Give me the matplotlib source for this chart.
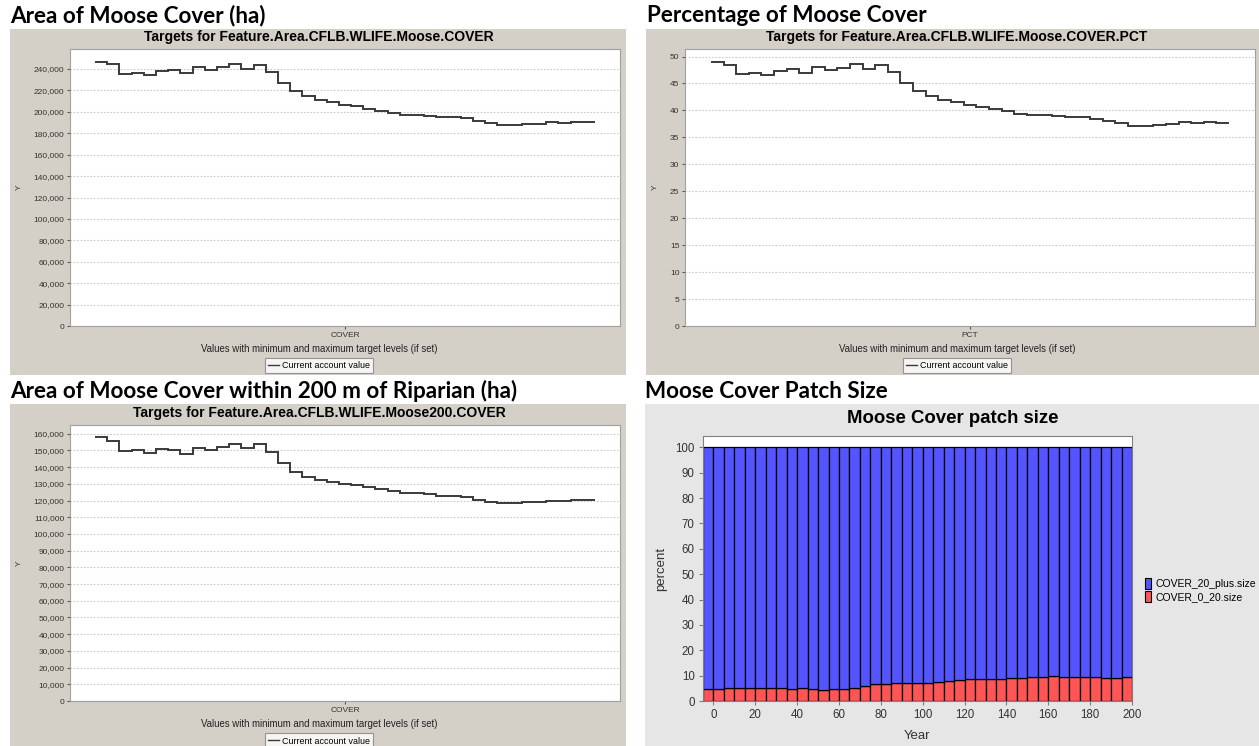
import numpy as np
import matplotlib
matplotlib.use('Agg')
from matplotlib import pyplot as plt
from matplotlib.patches import Rectangle, Patch
from matplotlib.lines import Line2D
from matplotlib.ticker import FuncFormatter

# simulation years (5 year steps)
years = list(range(0, 205, 5))

# area of moose cover (ha)
cover_ha = [246900, 244700, 235300, 236600, 234400, 238400, 239400, 236200, 242200, 239400,
            241500, 244300, 240000, 244000, 237200, 226900, 219700, 214400, 211300, 208800,
            206300, 205100, 202900, 201000, 198500, 197000, 196700, 195700, 195100, 194800,
            193900, 191700, 189500, 187300, 187600, 188300, 188900, 190700, 189800, 190700,
            190100]

# percentage of moose cover
cover_pct = [49.0, 48.5, 46.8, 47.0, 46.5, 47.4, 47.6, 46.9, 48.1, 47.5,
             47.9, 48.6, 47.7, 48.5, 47.1, 45.0, 43.6, 42.6, 42.0, 41.5,
             41.0, 40.7, 40.3, 39.9, 39.4, 39.2, 39.1, 38.9, 38.7, 38.7,
             38.5, 38.0, 37.6, 37.1, 37.2, 37.3, 37.4, 37.9, 37.7, 37.8,
             37.7]

# area of moose cover within 200 m of riparian (ha)
cover200_ha = [158000, 155600, 149600, 150400, 148400, 150600, 150200, 148000, 151400, 150000,
               151800, 154000, 151200, 154000, 149000, 142600, 137300, 134100, 132100, 131100,
               129900, 129500, 128100, 127100, 125500, 124500, 124700, 123900, 122900, 122900,
               122100, 120500, 119100, 118300, 118700, 119100, 119100, 119900, 119700, 120500,
               120300]

# patch size classes (percent)
patch_0_20 = [4.7, 4.7, 5.3, 5.3, 5.3, 5.1, 5.1, 5.3, 4.9, 5.3,
              4.9, 4.3, 4.9, 4.9, 5.3, 6.1, 6.6, 6.8, 7.0, 7.2,
              7.2, 7.2, 7.6, 7.7, 8.1, 8.8, 8.6, 8.8, 8.6, 9.1,
              9.1, 9.3, 9.3, 9.7, 9.5, 9.5, 9.6, 9.3, 9.2, 9.2,
              9.5]
patch_20_plus = [95.3, 95.3, 94.7, 94.7, 94.7, 94.9, 94.9, 94.7, 95.1, 94.7,
                 95.1, 95.7, 95.1, 95.1, 94.7, 93.9, 93.4, 93.2, 93.0, 92.8,
                 92.8, 92.8, 92.4, 92.3, 91.9, 91.2, 91.4, 91.2, 91.4, 90.9,
                 90.9, 90.7, 90.7, 90.3, 90.5, 90.5, 90.4, 90.7, 90.8, 90.8,
                 90.5]

W, H = 1259, 746
PANEL_GREY = '#d4d0c8'
JF_FONT = 'Liberation Sans'
HEAD_FONT = 'Lato'


def fx(x):
    return x / W


def fy(y):
    return 1 - y / H


def box(x0, y0, x1, y1):
    return [x0 / W, 1 - y1 / H, (x1 - x0) / W, (y1 - y0) / H]


fig = plt.figure(figsize=(W / 100, H / 100), dpi=100)
fig.patch.set_facecolor('white')


def background(x0, y0, x1, y1, color):
    fig.add_artist(Rectangle((fx(x0), fy(y1)), (x1 - x0) / W, (y1 - y0) / H,
                             transform=fig.transFigure, facecolor=color,
                             edgecolor='none', zorder=-5))


def heading(x, y, s):
    fig.text(fx(x), fy(y), s, fontsize=16.2, fontweight='bold', family=HEAD_FONT,
             ha='left', va='baseline', color='black')


def step_panel(pbox, cx, vals, top, step, cat, title, title_y, label_y, legend_y):
    x0, y0, x1, y1 = pbox
    ax = fig.add_axes(box(x0, y0, x1, y1))
    edges = np.arange(len(vals) + 1)
    ax.stairs(vals, edges, color='#3a3a3a', lw=1.4, baseline=None)
    ax.set_xlim(-2.05, len(vals) + 2.05)
    ax.set_ylim(0, top)
    ax.set_yticks(np.arange(0, top, step))
    ax.yaxis.set_major_formatter(FuncFormatter(lambda v, p: f'{v:,.0f}'))
    ax.set_xticks([len(vals) / 2])
    ax.set_xticklabels([cat])
    ax.tick_params(axis='both', labelsize=6, colors='#555555', length=2, pad=2,
                   labelcolor='#333333')
    ax.grid(axis='y', linestyle=(0, (1.5, 1.5)), color='#c8c8c8', lw=0.8)
    ax.set_axisbelow(True)
    for s in ax.spines.values():
        s.set_color('#a0a0a0')
        s.set_linewidth(0.8)
    for lab in ax.get_xticklabels() + ax.get_yticklabels():
        lab.set_family(JF_FONT)
    ax.set_ylabel('Y', fontsize=6, family=JF_FONT, color='#333333', labelpad=8)
    # titles, axis label and legend sit centred on the grey chart panel
    fig.text(fx(cx), fy(title_y), title, fontsize=10, fontweight='bold', family=JF_FONT,
             ha='center', va='center')
    fig.text(fx(cx), fy(label_y), 'Values with minimum and maximum target levels (if set)',
             fontsize=6.9, family=JF_FONT, ha='center', va='center', color='#222222')
    handle = Line2D([], [], color='#3a3a3a', lw=1)
    leg = fig.legend([handle], ['Current account value'], loc='center',
                     bbox_to_anchor=(fx(cx), fy(legend_y)),
                     prop={'family': JF_FONT, 'size': 6.4},
                     frameon=True, fancybox=False, edgecolor='#808080',
                     handlelength=1.2, handletextpad=0.4, borderpad=0.35)
    leg.get_frame().set_linewidth(0.8)
    return ax


# grey panel backgrounds
background(10, 29, 626, 375, PANEL_GREY)
background(646, 29, 1259, 375, PANEL_GREY)
background(10, 404, 626, 746, PANEL_GREY)
background(645, 404, 1259, 746, '#e6e6e6')

heading(10, 22.5, 'Area of Moose Cover (ha)')
heading(647, 22.5, 'Percentage of Moose Cover')
heading(10, 397.5, 'Area of Moose Cover within 200 m of Riparian (ha)')
heading(645, 397.5, 'Moose Cover Patch Size')

step_panel((70, 49, 620, 326), 319, cover_ha, 258700, 20000, 'COVER',
           'Targets for Feature.Area.CFLB.WLIFE.Moose.COVER', 37.5, 349, 365.5)
step_panel((685, 49, 1255, 326), 957, cover_pct, 51.4, 5, 'PCT',
           'Targets for Feature.Area.CFLB.WLIFE.Moose.COVER.PCT', 37.5, 349, 365.5)
step_panel((70, 425, 620, 701), 319, cover200_ha, 165200, 10000, 'COVER',
           'Targets for Feature.Area.CFLB.WLIFE.Moose200.COVER', 413, 724, 741)

# patch size stacked bars
ax4 = fig.add_axes(box(703, 436, 1132, 701))
ax4.bar(years, patch_0_20, width=-5, align='edge', color='#ff5555',
        edgecolor='black', lw=0.9)
ax4.bar(years, patch_20_plus, width=-5, align='edge', bottom=patch_0_20,
        color='#5555ff', edgecolor='black', lw=0.9)
ax4.set_xlim(-5, 200)
ax4.set_ylim(0, 104.5)
ax4.set_xticks(range(0, 201, 20))
ax4.set_yticks(range(0, 101, 10))
ax4.tick_params(axis='both', labelsize=8.3, colors='#808080', labelcolor='#333333',
                length=3, pad=3)
for lab in ax4.get_xticklabels() + ax4.get_yticklabels():
    lab.set_family(JF_FONT)
for s in ax4.spines.values():
    s.set_color('#808080')
    s.set_linewidth(0.8)
ax4.set_xlabel('Year', fontsize=9.5, family=JF_FONT, color='#333333', labelpad=6)
ax4.set_ylabel('percent', fontsize=9.5, family=JF_FONT, color='#333333', labelpad=6)
fig.text(fx(953), fy(418), 'Moose Cover patch size', fontsize=13.4, fontweight='bold',
         family=JF_FONT, ha='center', va='center')
fig.legend([Patch(facecolor='#5555ff', edgecolor='black', lw=0.8),
            Patch(facecolor='#ff5555', edgecolor='black', lw=0.8)],
           ['COVER_20_plus.size', 'COVER_0_20.size'],
           loc='center left', bbox_to_anchor=(fx(1140), fy(590)),
           prop={'family': JF_FONT, 'size': 7.5}, frameon=False,
           handlelength=0.6, handleheight=1.3, handletextpad=0.4,
           labelspacing=0.15, borderpad=0)

plt.savefig('out.png', dpi=100)
